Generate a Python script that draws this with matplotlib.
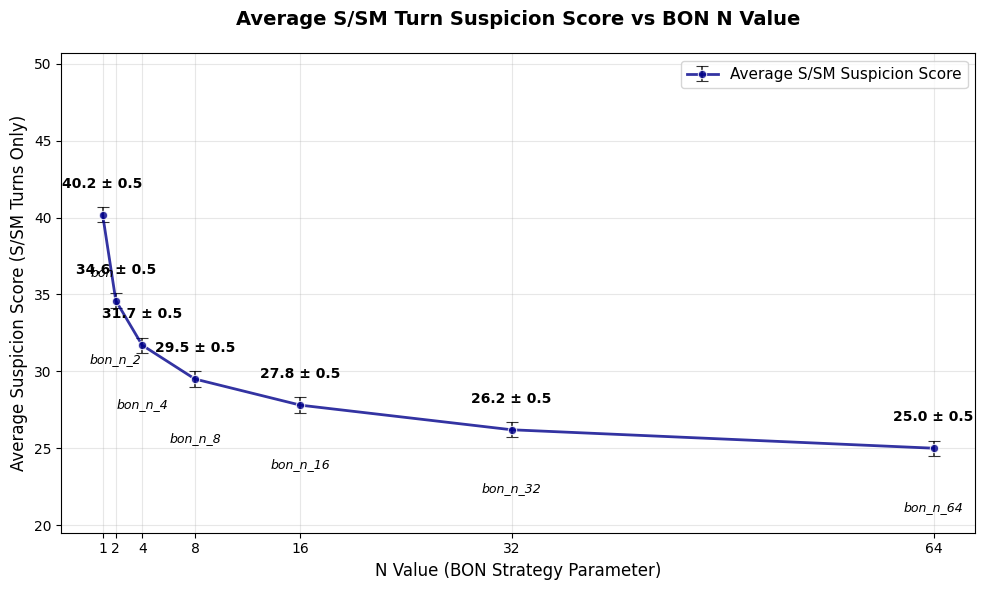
import matplotlib
matplotlib.use('Agg')
import matplotlib.pyplot as plt

n_values = [1, 2, 4, 8, 16, 32, 64]
scores = [40.2, 34.6, 31.7, 29.5, 27.8, 26.2, 25.0]
errors = [0.5, 0.5, 0.5, 0.5, 0.5, 0.5, 0.5]
names = ['bon', 'bon_n_2', 'bon_n_4', 'bon_n_8', 'bon_n_16', 'bon_n_32', 'bon_n_64']

fig, ax = plt.subplots(figsize=(9.85, 5.9), dpi=100)
ax.errorbar(n_values, scores, yerr=errors, fmt='o-', color='darkblue', alpha=0.8,
            linewidth=2, markersize=6, markeredgecolor='white', markeredgewidth=0.8,
            ecolor='black', elinewidth=1.2, capsize=4.5, capthick=1.2,
            label='Average S/SM Suspicion Score')

for x, y, e, nm in zip(n_values, scores, errors, names):
    ax.text(x, y + 2, f'{y:.1f} ± {e:.1f}', ha='center', va='center',
            fontsize=10, fontweight='bold')
    ax.text(x, y - 3.85, nm, ha='center', va='center', fontsize=9, style='italic')

ax.set_xticks(n_values)
ax.set_xticklabels([str(n) for n in n_values])
ax.set_ylim(19.5, 50.7)
ax.set_xlabel('N Value (BON Strategy Parameter)', fontsize=12)
ax.set_ylabel('Average Suspicion Score (S/SM Turns Only)', fontsize=12)
ax.set_title('Average S/SM Turn Suspicion Score vs BON N Value', fontsize=14,
             fontweight='bold', pad=20)
ax.grid(True, alpha=0.3)
ax.legend(fontsize=11)
plt.subplots_adjust(left=0.062, right=0.99, top=0.91, bottom=0.097)
plt.savefig('out.png')
